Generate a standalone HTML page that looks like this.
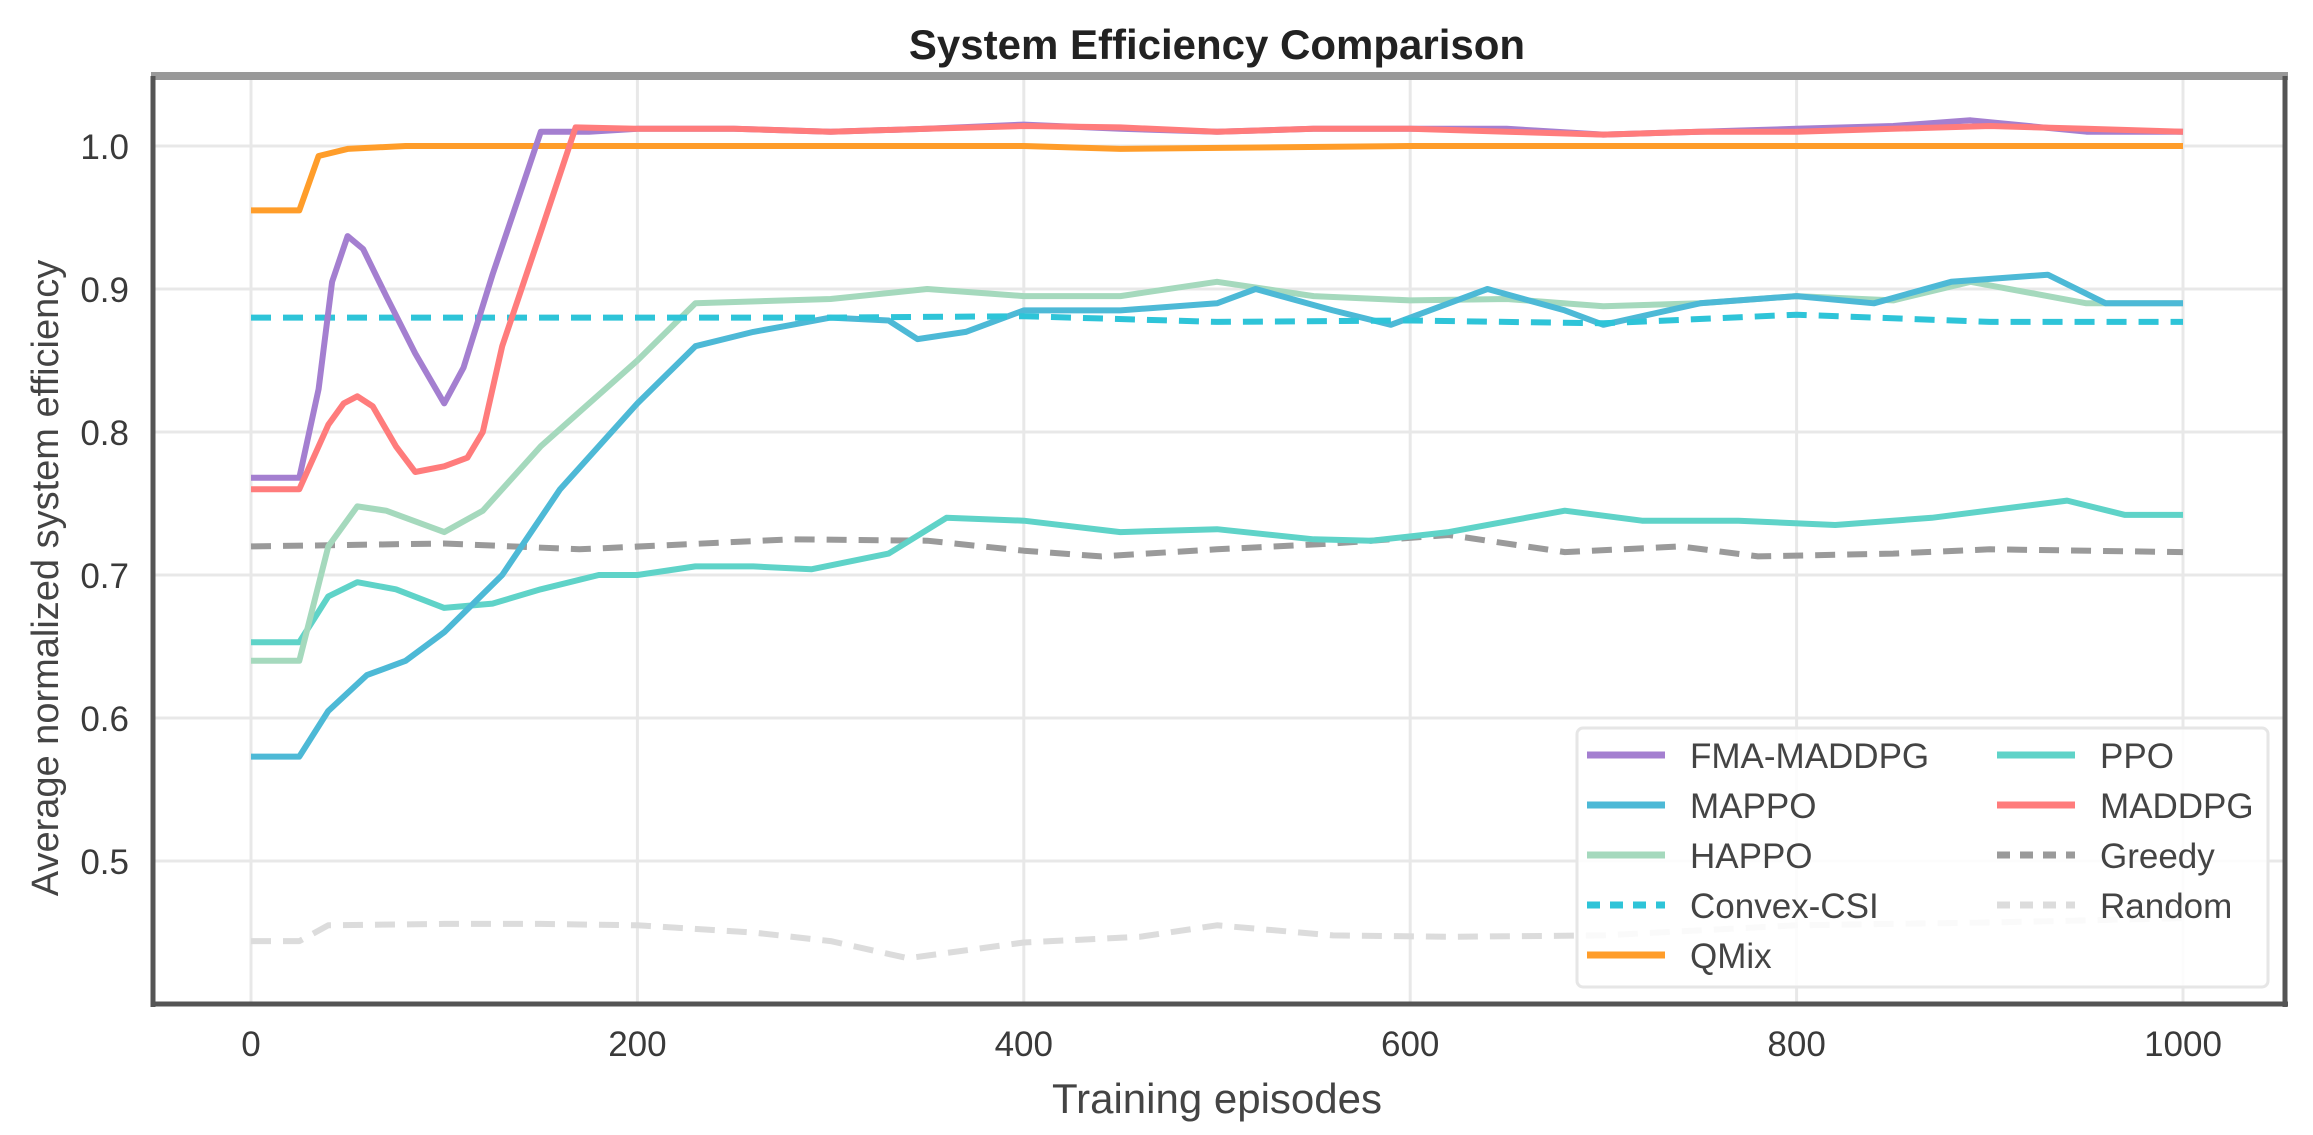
<!DOCTYPE html>
<html><head><meta charset="utf-8"><style>
html,body{margin:0;padding:0;background:#fff;}
svg{display:block;font-family:"Liberation Sans",Arial,sans-serif;}
</style></head><body>
<svg id="chart" width="2313" height="1135" viewBox="0 0 2313 1135" xmlns="http://www.w3.org/2000/svg">
<rect x="0" y="0" width="2313" height="1135" fill="#fff"/>
<text x="1217" y="59" font-size="42" font-weight="bold" fill="#222" text-anchor="middle">System Efficiency Comparison</text>
<g id="grid"></g>
<g id="series"></g>
<g id="spines"></g>
<g id="ticks"></g>
<text x="1217" y="1113" font-size="42" fill="#444" text-anchor="middle">Training episodes</text>
<text transform="translate(58,578) rotate(-90)" font-size="38" fill="#444" text-anchor="middle">Average normalized system efficiency</text>
<g id="legend"></g>
</svg>
<script>
const xTicks=[0,200,400,600,800,1000];
const yTicks=[0.5,0.6,0.7,0.8,0.9,1.0];
const yTickLabels=["0.5","0.6","0.7","0.8","0.9","1.0"];
const seriesNames=["FMA-MADDPG","MAPPO","HAPPO","Convex-CSI","QMix","PPO","MADDPG","Greedy","Random"];
const fmaEp=[0,25,35,42,50,58,70,85,100,110,125,140,150,175,200,250,300,350,400,450,500,550,600,650,700,750,800,850,890,950,1000];
const fmaVal=[0.768,0.768,0.83,0.905,0.937,0.928,0.895,0.855,0.82,0.845,0.91,0.97,1.01,1.01,1.012,1.012,1.01,1.012,1.015,1.012,1.01,1.012,1.012,1.012,1.008,1.01,1.012,1.014,1.018,1.01,1.01];
const maddpgEp=[0,25,40,48,55,63,75,85,100,112,120,130,150,168,200,250,300,350,400,450,500,550,600,650,700,750,800,850,900,950,1000];
const maddpgVal=[0.76,0.76,0.805,0.82,0.825,0.818,0.79,0.772,0.776,0.782,0.8,0.86,0.94,1.013,1.012,1.012,1.01,1.012,1.014,1.013,1.01,1.012,1.012,1.01,1.008,1.01,1.01,1.012,1.014,1.012,1.01];
const qmixEp=[0,25,35,50,80,200,400,450,600,800,1000];
const qmixVal=[0.955,0.955,0.993,0.998,1.0,1.0,1.0,0.998,1.0,1.0,1.0];
const convexEp=[0,100,200,300,400,500,600,700,800,900,1000];
const convexVal=[0.88,0.88,0.88,0.88,0.881,0.877,0.878,0.876,0.882,0.877,0.877];
const happoEp=[0,25,40,55,70,100,120,150,200,230,300,350,400,450,500,550,600,650,700,750,800,850,890,950,1000];
const happoVal=[0.64,0.64,0.72,0.748,0.745,0.73,0.745,0.79,0.85,0.89,0.893,0.9,0.895,0.895,0.905,0.895,0.892,0.893,0.888,0.89,0.895,0.892,0.905,0.89,0.89];
const mappoEp=[0,25,40,60,80,100,130,160,200,230,260,280,300,330,345,370,400,450,500,520,560,590,620,640,680,700,750,800,840,880,930,960,1000];
const mappoVal=[0.573,0.573,0.605,0.63,0.64,0.66,0.7,0.76,0.82,0.86,0.87,0.875,0.88,0.878,0.865,0.87,0.885,0.885,0.89,0.9,0.885,0.875,0.89,0.9,0.885,0.875,0.89,0.895,0.89,0.905,0.91,0.89,0.89];
const ppoEp=[0,25,40,55,75,100,125,150,180,200,230,260,290,330,360,400,450,500,550,580,620,680,720,770,820,870,940,970,1000];
const ppoVal=[0.653,0.653,0.685,0.695,0.69,0.677,0.68,0.69,0.7,0.7,0.706,0.706,0.704,0.715,0.74,0.738,0.73,0.732,0.725,0.724,0.73,0.745,0.738,0.738,0.735,0.74,0.752,0.742,0.742];
const greedyEp=[0,100,170,280,350,400,440,500,560,620,680,740,780,850,900,1000];
const greedyVal=[0.72,0.722,0.718,0.725,0.724,0.717,0.713,0.718,0.722,0.728,0.716,0.72,0.713,0.715,0.718,0.716];
const randomEp=[0,25,40,100,150,200,260,300,340,400,460,500,560,620,700,800,900,1000];
const randomVal=[0.444,0.444,0.455,0.456,0.456,0.455,0.45,0.444,0.432,0.443,0.447,0.455,0.448,0.447,0.448,0.455,0.457,0.46];

const NS="http://www.w3.org/2000/svg";
const L=153,R=2285,T=76,B=1004;
const xs=e=>251+e*1.932;
const ys=v=>146+(1-v)*1430;
function mk(tag,attrs,parent){const el=document.createElementNS(NS,tag);for(const k in attrs)el.setAttribute(k,attrs[k]);parent.appendChild(el);return el;}
const grid=document.getElementById('grid'),ticks=document.getElementById('ticks');
xTicks.forEach(t=>{
  const g=mk('line',{x1:xs(t),x2:xs(t),y1:T,y2:B,stroke:'#e8e8e8','stroke-width':3},grid);
  
  
  const tx=mk('text',{x:xs(t),y:1056,'font-size':35,fill:'#3a3a3a','text-anchor':'middle'},ticks);
  tx.textContent=t;
  
  
});
yTicks.forEach((t,i)=>{
  const g=mk('line',{x1:L,x2:R,y1:ys(t),y2:ys(t),stroke:'#e8e8e8','stroke-width':3},grid);
  
  
  const tx=mk('text',{x:129,y:ys(t)+13,'font-size':35,fill:'#3a3a3a','text-anchor':'end'},ticks);
  tx.textContent=yTickLabels[i];
  
  
});
const series=[
 {ep:randomEp,val:randomVal,c:'#dcdcdc',d:'20 12'},
 {ep:greedyEp,val:greedyVal,c:'#9a9a9a',d:'20 12'},
 {ep:ppoEp,val:ppoVal,c:'#5fd3c8',d:null},
 {ep:happoEp,val:happoVal,c:'#a5d9bd',d:null},
 {ep:mappoEp,val:mappoVal,c:'#4db9d6',d:null},
 {ep:convexEp,val:convexVal,c:'#2ec4d8',d:'20 12'},
 {ep:qmixEp,val:qmixVal,c:'#ff9d2a',d:null},
 {ep:fmaEp,val:fmaVal,c:'#a47fd0',d:null},
 {ep:maddpgEp,val:maddpgVal,c:'#ff7c7c',d:null}
];
const sg=document.getElementById('series');
const snames=['random-line','greedy-line','ppo-line','happo-line','mappo-line','convex-csi-line','qmix-line','fma-maddpg-line','maddpg-line'];
series.forEach((s,i)=>{
  const pts=s.ep.map((e,j)=>xs(e).toFixed(1)+','+ys(s.val[j]).toFixed(1)).join(' ');
  const a={points:pts,fill:'none',stroke:s.c,'stroke-width':6,'stroke-linejoin':'round'};
  if(s.d)a['stroke-dasharray']=s.d;
  const p=mk('polyline',a,sg);
  
  
});
const sp=document.getElementById('spines');
mk('line',{x1:L-2,x2:R+3,y1:T,y2:T,stroke:'#999','stroke-width':8},sp);
mk('line',{x1:L,x2:L,y1:T,y2:B+3,stroke:'#555','stroke-width':5},sp);
mk('line',{x1:L,x2:R+3,y1:B,y2:B,stroke:'#555','stroke-width':5},sp);
mk('line',{x1:R,x2:R,y1:T,y2:B+3,stroke:'#555','stroke-width':5},sp);
const lg=document.getElementById('legend');
const box=mk('rect',{x:1577,y:728,width:691,height:259,rx:6,fill:'#fff','fill-opacity':0.85,stroke:'#e6e6e6','stroke-width':3},lg);


const entries=[
 {n:'FMA-MADDPG',c:'#a47fd0',d:null,col:0,row:0},
 {n:'MAPPO',c:'#4db9d6',d:null,col:0,row:1},
 {n:'HAPPO',c:'#a5d9bd',d:null,col:0,row:2},
 {n:'Convex-CSI',c:'#2ec4d8',d:'13 10',col:0,row:3},
 {n:'QMix',c:'#ff9d2a',d:null,col:0,row:4},
 {n:'PPO',c:'#5fd3c8',d:null,col:1,row:0},
 {n:'MADDPG',c:'#ff7c7c',d:null,col:1,row:1},
 {n:'Greedy',c:'#9a9a9a',d:'13 10',col:1,row:2},
 {n:'Random',c:'#dcdcdc',d:'13 10',col:1,row:3}
];
entries.forEach(en=>{
  const x0=en.col?1997:1587, y0=755+en.row*50;
  const a={x1:x0,x2:x0+78,y1:y0,y2:y0,stroke:en.c,'stroke-width':7};
  if(en.d)a['stroke-dasharray']=en.d;
  const ln=mk('line',a,lg);
  
  
  const t=mk('text',{x:x0+103,y:y0+13,'font-size':35,fill:'#444'},lg);
  t.textContent=en.n;
  
  
});
</script>
</body></html>
